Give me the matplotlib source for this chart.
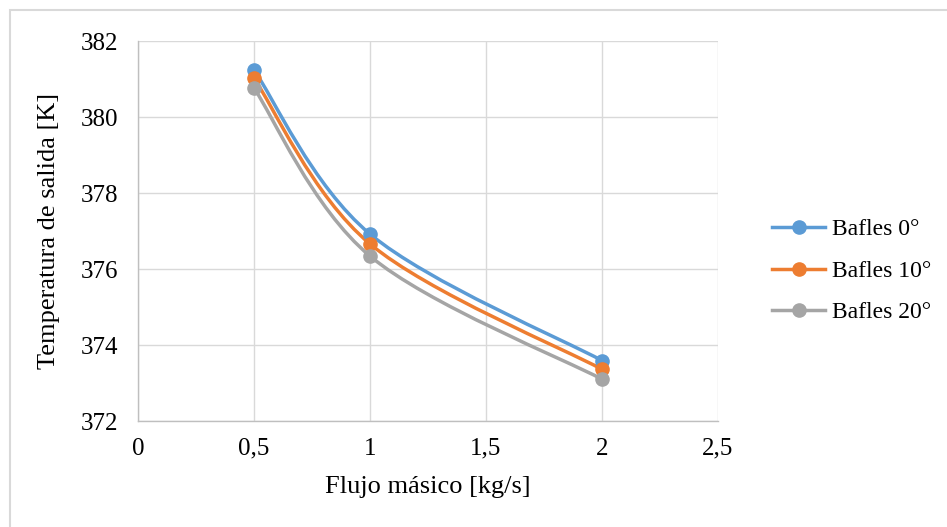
import numpy as np
import matplotlib
matplotlib.use("Agg")
import matplotlib.pyplot as plt
from matplotlib.path import Path
from matplotlib.patches import PathPatch, Rectangle
from matplotlib.lines import Line2D

flujo = [0.5, 1, 2]
bafles_0 = [381.24, 376.92, 373.59]
bafles_10 = [381.02, 376.66, 373.36]
bafles_20 = [380.76, 376.34, 373.10]
series = [("Bafles 0°", bafles_0, "#5B9BD5"),
          ("Bafles 10°", bafles_10, "#ED7D31"),
          ("Bafles 20°", bafles_20, "#A5A5A5")]

xticks = [0, 0.5, 1, 1.5, 2, 2.5]
xticklabels = ["0", "0,5", "1", "1,5", "2", "2,5"]
yticks = [372, 374, 376, 378, 380, 382]

plt.rcParams['font.family'] = ['Liberation Serif', 'DejaVu Serif']


def smooth_path(x, y):
    # excel-like smoothed line: bezier segments with catmull-rom tangents
    pts = np.column_stack([x, y]).astype(float)
    n = len(pts)
    verts = [pts[0]]
    codes = [Path.MOVETO]
    for i in range(n - 1):
        p0 = pts[max(i - 1, 0)]
        p1 = pts[i]
        p2 = pts[i + 1]
        p3 = pts[min(i + 2, n - 1)]
        c1 = p1 + (p2 - p0) / 6
        c2 = p2 - (p3 - p1) / 6
        verts += [c1, c2, p2]
        codes += [Path.CURVE4] * 3
    return Path(verts, codes)


fig = plt.figure(figsize=(9.47, 5.27), dpi=100)
ax = fig.add_axes([138 / 947, 106 / 527, 580 / 947, 380 / 527])

for name, vals, color in series:
    ax.add_patch(PathPatch(smooth_path(flujo, vals), fill=False,
                           edgecolor=color, lw=2.5, zorder=3,
                           capstyle='round'))
    ax.plot(flujo, vals, 'o', color=color, markersize=9.5, zorder=4)

ax.set_xlim(0, 2.5)
ax.set_ylim(372, 382)
ax.set_xticks(xticks)
ax.set_xticklabels(xticklabels)
ax.set_yticks(yticks)
ax.grid(True, color="#d9d9d9", lw=1)
ax.set_axisbelow(True)
for s in ["top", "right"]:
    ax.spines[s].set_visible(False)
for s in ["left", "bottom"]:
    ax.spines[s].set_color("#bfbfbf")
    ax.spines[s].set_linewidth(1)
ax.tick_params(axis="y", length=0, labelsize=18, pad=14)
ax.tick_params(axis="x", length=0, labelsize=18, pad=12)
ax.set_xlabel("Flujo másico [kg/s]", fontsize=19, labelpad=12)
ax.set_ylabel("Temperatura de salida [K]", fontsize=19, labelpad=15)

handles = [Line2D([], [], color=c, lw=2.5, marker='o', markersize=9.5)
           for _, _, c in series]
fig.legend(handles, [n for n, _, _ in series], loc="center left",
           bbox_to_anchor=(772 / 947, 1 - 271 / 527), frameon=False,
           fontsize=17, handlelength=2.25, handletextpad=0.3,
           labelspacing=0.85, borderpad=0, borderaxespad=0)

fig.add_artist(Rectangle((10 / 947, -0.1), 1.2, 1.1 - 10 / 527,
                         transform=fig.transFigure, fill=False,
                         edgecolor="#d9d9d9", lw=1.5))

fig.savefig("out.png", dpi=100)
